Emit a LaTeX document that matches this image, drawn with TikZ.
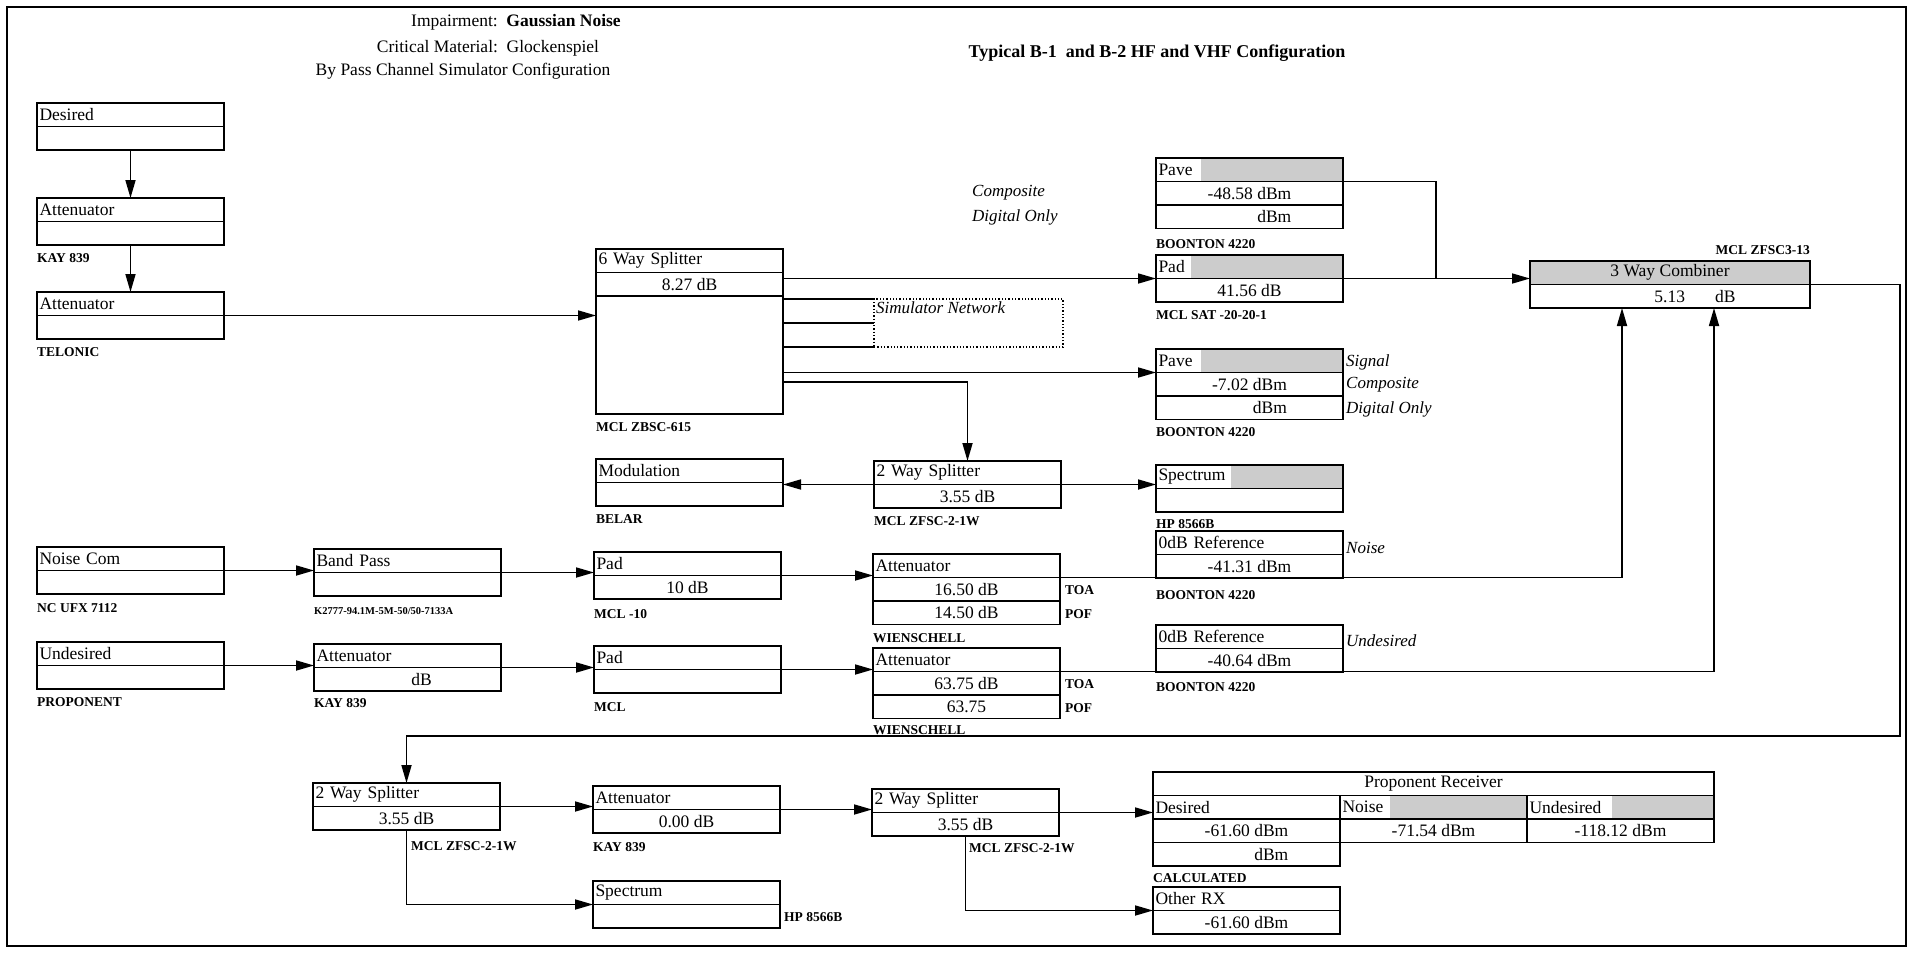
\documentclass[tikz,border=0pt]{standalone}
\usepackage{fontspec}
\setmainfont{Liberation Serif}
\usetikzlibrary{positioning,arrows.meta}

\begin{document}
\begin{tikzpicture}[x=1pt,y=-1pt,
  box/.style={draw,line width=1.7pt,outer sep=0pt,inner xsep=2.5pt,inner ysep=1pt,minimum width=187pt,minimum height=23.5pt,font=\fontsize{17.5}{19}\selectfont},
  head/.style={box,text width=182pt,align=left},
  val/.style={box,align=center},
  dots/.style={path picture={\fill[black!20] ([xshift=#1]path picture bounding box.south west) rectangle (path picture bounding box.north east);}},
  tag/.style={anchor=west,inner sep=0pt,font=\bfseries\fontsize{13.5}{15}\selectfont},
  note/.style={anchor=west,inner sep=0pt,font=\itshape\fontsize{17}{19}\selectfont},
  caption/.style={inner sep=0pt,font=\fontsize{17.5}{19}\selectfont},
  wire/.style={line width=1.7pt},
  feed/.style={wire,-{Triangle[length=18pt,width=10pt]}}]
  \useasboundingbox (0,0) rectangle (1913,966);
  \draw[line width=2.4pt] (7,7) rectangle (1906,946);

  % titles
  \node[caption] (impT) at (516,22) {Impairment:\ \ \textbf{Gaussian Noise}};
  \node[caption] (matT) at (488,48) {Critical Material:\ \ Glockenspiel};
  \node[caption] (cfgT) at (463,71) {By Pass Channel Simulator Configuration};
  \node[caption,font=\bfseries\fontsize{18}{20}\selectfont] (mainT) at (1157,53) {Typical B-1\ \ and B-2 HF and VHF Configuration};

  % desired source chain
  \node[head,anchor=north west] (desA) at (37,103) {Desired};
  \node[val,below=0pt of desA] (desB) {};
  \node[head,anchor=north west] (kayA) at (37,198) {Attenuator};
  \node[val,below=0pt of kayA] (kayB) {};
  \node[tag] (kayT) at (37,258) {KAY 839};
  \node[head,anchor=north west] (telA) at (37,292) {Attenuator};
  \node[val,below=0pt of telA] (telB) {};
  \node[tag] (telT) at (37,352) {TELONIC};

  % 6 way splitter and simulator
  \node[head,anchor=north west] (sixA) at (596,249) {6 Way Splitter};
  \node[val,below=0pt of sixA] (sixB) {8.27 dB};
  \node[box,minimum height=118pt,below=0pt of sixB] (sixC) {};
  \node[tag] (sixT) at (596,427) {MCL ZBSC-615};
  \node[draw,dotted,line width=1.3pt,minimum width=189pt,minimum height=48pt,outer sep=0pt,anchor=north west] (sim) at (874,299) {};
  \node[note,anchor=north west] (simT) at (876,302) {Simulator Network};
  \node[note] (compT) at (972,193) {Composite};
  \node[note] (digT) at (972,217) {Digital Only};

  % meters
  \node[head,dots=45pt,anchor=north west] (pave1A) at (1156,158) {Pave};
  \node[val,below=0pt of pave1A] (pave1B) {-48.58 dBm};
  \node[val,below=0pt of pave1B] (pave1C) {\phantom{-48.58} dBm};
  \node[tag] (pave1T) at (1156,244) {BOONTON 4220};
  \node[head,dots=35pt,anchor=north west] (padA) at (1156,255) {Pad};
  \node[val,below=0pt of padA] (padB) {41.56 dB};
  \node[tag] (padT) at (1156,315) {MCL SAT -20-20-1};
  \node[head,dots=45pt,anchor=north west] (pave2A) at (1156,349) {Pave};
  \node[val,below=0pt of pave2A] (pave2B) {-7.02 dBm};
  \node[val,below=0pt of pave2B] (pave2C) {\phantom{-7.02} dBm};
  \node[tag] (pave2T) at (1156,432) {BOONTON 4220};
  \node[note] (sigT) at (1346,362) {Signal};
  \node[note] (comp2T) at (1346,385) {Composite};
  \node[note] (dig2T) at (1346,409) {Digital Only};
  \node[head,dots=75pt,anchor=north west] (specA) at (1156,465) {Spectrum};
  \node[val,below=0pt of specA] (specB) {};
  \node[tag] (specT) at (1156,524) {HP 8566B};
  \node[head,anchor=north west] (ref1A) at (1156,531) {0dB Reference};
  \node[val,below=0pt of ref1A] (ref1B) {-41.31 dBm};
  \node[tag] (ref1T) at (1156,595) {BOONTON 4220};
  \node[note] (noiT) at (1346,548) {Noise};
  \node[head,anchor=north west] (ref2A) at (1156,625) {0dB Reference};
  \node[val,below=0pt of ref2A] (ref2B) {-40.64 dBm};
  \node[tag] (ref2T) at (1156,687) {BOONTON 4220};
  \node[note] (undT) at (1346,641) {Undesired};

  % combiner
  \node[box,minimum width=280pt,fill=black!20,anchor=north west] (combA) at (1530,261) {3 Way Combiner};
  \node[box,minimum width=280pt,below=0pt of combA] (combB) {\hspace*{50pt}5.13\hspace{30pt}dB};
  \node[tag,anchor=east] (combT) at (1810,250) {MCL ZFSC3-13};

  % modulation branch
  \node[head,anchor=north west] (modA) at (596,459) {Modulation};
  \node[val,below=0pt of modA] (modB) {};
  \node[tag] (modT) at (596,519) {BELAR};
  \node[head,anchor=north west] (twoA) at (874,461) {2 Way Splitter};
  \node[val,below=0pt of twoA] (twoB) {3.55 dB};
  \node[tag] (twoT) at (874,521) {MCL ZFSC-2-1W};

  % noise chain
  \node[head,anchor=north west] (ncA) at (37,547) {Noise Com};
  \node[val,below=0pt of ncA] (ncB) {};
  \node[tag] (ncT) at (37,608) {NC UFX 7112};
  \node[head,anchor=north west] (bpA) at (314,549) {Band Pass};
  \node[val,below=0pt of bpA] (bpB) {};
  \node[tag,font=\bfseries\fontsize{10.5}{12}\selectfont] (bpT) at (314,611) {K2777-94.1M-5M-50/50-7133A};
  \node[head,anchor=north west] (padNA) at (594,552) {Pad};
  \node[val,below=0pt of padNA] (padNB) {10 dB};
  \node[tag] (padNT) at (594,614) {MCL -10};
  \node[head,anchor=north west] (attNA) at (873,554) {Attenuator};
  \node[val,below=0pt of attNA] (attNB) {16.50 dB};
  \node[val,below=0pt of attNB] (attNC) {14.50 dB};
  \node[tag] (toaN) at (1065,590) {TOA};
  \node[tag] (pofN) at (1065,614) {POF};
  \node[tag] (attNT) at (873,638) {WIENSCHELL};

  % undesired chain
  \node[head,anchor=north west] (udA) at (37,642) {Undesired};
  \node[val,below=0pt of udA] (udB) {};
  \node[tag] (udT) at (37,702) {PROPONENT};
  \node[head,anchor=north west] (attKA) at (314,644) {Attenuator};
  \node[val,below=0pt of attKA] (attKB) {\hspace*{28pt}dB};
  \node[tag] (attKT) at (314,703) {KAY 839};
  \node[head,anchor=north west] (padUA) at (594,646) {Pad};
  \node[val,below=0pt of padUA] (padUB) {};
  \node[tag] (padUT) at (594,707) {MCL};
  \node[head,anchor=north west] (attUA) at (873,648) {Attenuator};
  \node[val,below=0pt of attUA] (attUB) {63.75 dB};
  \node[val,below=0pt of attUB] (attUC) {63.75};
  \node[tag] (toaU) at (1065,684) {TOA};
  \node[tag] (pofU) at (1065,708) {POF};
  \node[tag] (attUT) at (873,730) {WIENSCHELL};

  % receiver side
  \node[head,anchor=north west] (bsA) at (313,783) {2 Way Splitter};
  \node[val,below=0pt of bsA] (bsB) {3.55 dB};
  \node[tag] (bsT) at (411,846) {MCL ZFSC-2-1W};
  \node[head,anchor=north west] (attBA) at (593,786) {Attenuator};
  \node[val,below=0pt of attBA] (attBB) {0.00 dB};
  \node[tag] (attBT) at (593,847) {KAY 839};
  \node[head,anchor=north west] (bs2A) at (872,789) {2 Way Splitter};
  \node[val,below=0pt of bs2A] (bs2B) {3.55 dB};
  \node[tag] (bs2T) at (969,848) {MCL ZFSC-2-1W};
  \node[head,anchor=north west] (spec2A) at (593,881) {Spectrum};
  \node[val,below=0pt of spec2A] (spec2B) {};
  \node[tag] (spec2T) at (784,917) {HP 8566B};

  \node[box,minimum width=561pt,anchor=north west] (rxHead) at (1153,772) {Proponent Receiver};
  \node[head,anchor=north west] (rxDes) at (1153,795.5) {Desired};
  \node[head,dots=50pt,right=0pt of rxDes] (rxNoi) {Noise};
  \node[head,dots=85pt,right=0pt of rxNoi] (rxUnd) {Undesired};
  \node[val,below=0pt of rxDes] (rxDesV) {-61.60 dBm};
  \node[val,below=0pt of rxNoi] (rxNoiV) {-71.54 dBm};
  \node[val,below=0pt of rxUnd] (rxUndV) {-118.12 dBm};
  \node[val,below=0pt of rxDesV] (rxDesW) {\phantom{-61.60} dBm};
  \node[tag] (rxT) at (1153,878) {CALCULATED};
  \node[head,anchor=north west] (orxA) at (1153,887) {Other RX};
  \node[val,below=0pt of orxA] (orxB) {-61.60 dBm};

  % helper turning points
  \coordinate (j1) at (1436,0);
  \coordinate (j2) at (1622,0);
  \coordinate (j3) at (1714,0);
  \coordinate (loopR) at (1900,736);

  % connectors
  \draw[feed] (desB.south) -- (kayA.north);
  \draw[feed] (kayB.south) -- (telA.north);
  \draw[feed] (telA.south east) -- (telA.south east -| sixC.west);
  \draw[feed] (sixA.east |- padA.south west) -- (padA.south west);
  \foreach \a in {north west,west,south west}
    \draw[wire] (sixC.east |- sim.\a) -- (sim.\a);
  \draw[feed] (sixC.east |- pave2A.south west) -- (pave2A.south west);
  \draw[feed] ([yshift=-86pt]sixC.north east) -| (twoA.north);
  \draw[feed] (twoA.south west) -- (twoA.south west -| modA.east);
  \draw[feed] (twoA.south east) -- (twoA.south east -| specA.west);
  \draw[wire] (pave1A.south east) -| (padA.south east -| j1);
  \draw[feed] (padA.south east) -- (padA.south east -| combA.west);
  \draw[feed] (ncA.south east) -- (ncA.south east -| bpA.west);
  \draw[feed] (bpA.south east) -- (bpA.south east -| padNA.west);
  \draw[feed] (padNA.south east) -- (padNA.south east -| attNA.west);
  \draw[feed] (attNA.south east) -| (combB.south -| j2);
  \draw[feed] (udA.south east) -- (udA.south east -| attKA.west);
  \draw[feed] (attKA.south east) -- (attKA.south east -| padUA.west);
  \draw[feed] (padUA.south east) -- (padUA.south east -| attUA.west);
  \draw[feed] (attUA.south east) -| (combB.south -| j3);
  \draw[feed] (combA.south east) -| (loopR) -| (bsA.north);
  \draw[feed] (bsA.south east) -- (bsA.south east -| attBA.west);
  \draw[feed] (attBA.south east) -- (attBA.south east -| bs2A.west);
  \draw[feed] (bsB.south) |- (spec2A.south west);
  \draw[feed] (bs2A.south east) -- (bs2A.south east -| rxDes.west);
  \draw[feed] (bs2B.south) |- (orxA.south west);
\end{tikzpicture}
\end{document}
